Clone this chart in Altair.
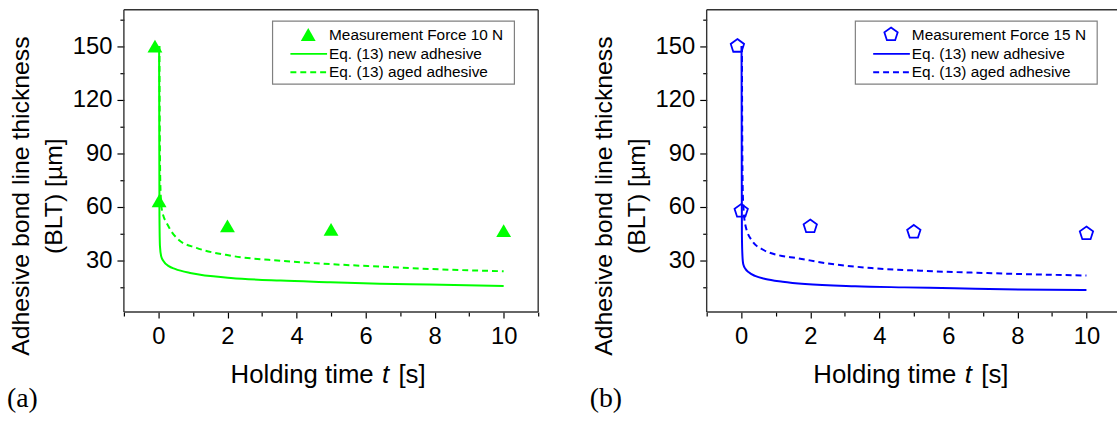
import altair as alt
import pandas as pd

# ---- measured BLT, force 10 N (panel a) ----
meas_t_a = [-0.1, 0.02, 2, 5, 10]
meas_v_a = [150, 63.5, 49.5, 47.5, 46.8]
# Eq. (13), new adhesive
new_t_a = [0.02, 0.025, 0.03, 0.045, 0.08, 0.14, 0.3, 0.48, 0.96, 2.1, 3.54, 4.98, 6.41, 7.85, 10]
new_v_a = [150, 100, 55, 38, 32.5, 30, 27, 25.4, 23, 20.4, 18.9, 18, 17.1, 16.7, 15.9]
# Eq. (13), aged adhesive
aged_t_a = [0.03, 0.04, 0.06, 0.1, 0.29, 0.6, 1.1, 2.1, 3.54, 4.98, 6.41, 7.85, 10]
aged_v_a = [150, 100, 70, 58.5, 49.3, 41.5, 37.2, 32.8, 30, 28.1, 26.7, 25.4, 24.1]

# ---- measured BLT, force 15 N (panel b) ----
meas_t_b = [-0.11, 0.0, 2, 5, 10]
meas_v_b = [150, 57.8, 49.1, 46.1, 45.2]
new_t_b = [0.01, 0.015, 0.02, 0.035, 0.06, 0.12, 0.22, 0.4, 0.7, 1.2, 1.85, 3.3, 4.73, 6.17, 7.6, 10]
new_v_b = [150, 90, 45, 33, 28, 25.5, 23.5, 21.5, 19.8, 18.3, 17, 15.7, 15.1, 14.6, 14, 13.6]
aged_t_b = [0.02, 0.03, 0.05, 0.12, 0.32, 0.65, 1.1, 1.6, 2.5, 3.77, 5.2, 7.12, 10]
aged_v_b = [150, 100, 65, 50, 41, 36, 33, 31.5, 28.5, 25.9, 24.4, 23.1, 21.7]

Y_TICKS = list(range(15, 170, 15))

H = 305
PX_PER_S = 418 / 12.0  # same time scale in both panels
FONT = "Liberation Sans"
SERIF = "Liberation Serif"
FRAME = "#333333"
PENTAGON = "M0,-1L0.951,-0.309L0.588,0.809L-0.588,0.809L-0.951,-0.309Z"

one = pd.DataFrame({"k": [0]})


def x_axis(ticks):
    return alt.Axis(
        title=None, values=ticks, grid=False, domain=False,
        labelExpr="(datum.value % 2 === 0 && datum.value >= 0 && datum.value <= 10) ? datum.label : ''",
        tickSize={"condition": {"test": "datum.value % 2 === 0", "value": 6}, "value": 4},
        tickColor="black", tickWidth=1.2,
        labelFont=FONT, labelFontSize=24, labelColor="black", labelPadding=7,
        labelFlush=False, labelOverlap=False,
    )


y_axis = alt.Axis(
    title=["Adhesive bond line thickness", "(BLT) [µm]"],
    values=Y_TICKS, grid=False, domain=False,
    labelExpr="datum.value % 30 === 0 ? datum.label : ''",
    tickSize={"condition": {"test": "datum.value % 30 === 0", "value": 7}, "value": 4},
    tickColor="black", tickWidth=1.2,
    labelFont=FONT, labelFontSize=24, labelColor="black", labelPadding=5,
    labelOverlap=False,
    titleFont=FONT, titleFontSize=25, titleFontWeight="normal", titleColor="black",
    titleLineHeight=33, titleX=-91, titleY=187.5, titleAngle=270,
    titleAlign="center", titleBaseline="bottom",
)
y_enc = alt.Y("v:Q", scale=alt.Scale(domain=[1.3, 170.3], nice=False, zero=False), axis=y_axis)


def text(label, x, y, size, align="left", style="normal", font=FONT, baseline="alphabetic"):
    return alt.Chart(one).mark_text(
        text=label, align=align, baseline=baseline, fontSize=size,
        font=font, fontStyle=style, color="black",
    ).encode(x=alt.value(x), y=alt.value(y))


def rule(**enc):
    return alt.Chart(one).mark_rule(color=FRAME, strokeWidth=1.4).encode(
        **{k: alt.value(v) for k, v in enc.items()})


def panel(mt, mv, nt, nv, at, av, color, shape, filled, size, force_label, tag,
          width, t_max, right_frame):
    meas = pd.DataFrame({"t": mt, "v": mv})
    new = pd.DataFrame({"t": nt, "v": nv})
    aged = pd.DataFrame({"t": at, "v": av})

    ticks = [v for v in range(-1, 12) if v <= t_max]
    x_enc = alt.X("t:Q", scale=alt.Scale(domain=[-1, t_max], nice=False, zero=False),
                  axis=x_axis(ticks))

    new_line = alt.Chart(new).mark_line(color=color, strokeWidth=2, interpolate="monotone").encode(x=x_enc, y=y_enc)
    aged_line = alt.Chart(aged).mark_line(color=color, strokeWidth=2, strokeDash=[6, 4],
                                          interpolate="monotone").encode(x=x_enc, y=y_enc)
    points = alt.Chart(meas).mark_point(
        shape=shape, filled=filled, size=size, color=color, opacity=1,
        strokeWidth=1.8,
    ).encode(x=x_enc, y=y_enc)

    # plot frame
    frame = [
        rule(x=0, x2=width, y=0),
        rule(x=0, x2=width, y=H),
        rule(x=0, y=0, y2=H),
    ]
    if right_frame:
        frame.append(rule(x=width, y=0, y2=H))

    # legend box
    box = alt.Chart(one).mark_rect(fill="white", stroke="#808080", strokeWidth=1.2).encode(
        x=alt.value(150), x2=alt.value(394), y=alt.value(11.5), y2=alt.value(75))
    leg_sym = alt.Chart(one).mark_point(
        shape=shape, filled=filled, size=size, color=color, opacity=1, strokeWidth=1.8,
    ).encode(x=alt.value(186), y=alt.value(25))
    leg_new = alt.Chart(one).mark_rule(color=color, strokeWidth=2).encode(
        x=alt.value(168), x2=alt.value(205), y=alt.value(44.5))
    leg_aged = alt.Chart(one).mark_rule(color=color, strokeWidth=2, strokeDash=[6, 4]).encode(
        x=alt.value(168), x2=alt.value(205), y=alt.value(63))
    leg_txt = [
        text(force_label, 207, 25, 15.5, baseline="middle"),
        text("Eq. (13) new adhesive", 207, 44.5, 15.5, baseline="middle"),
        text("Eq. (13) aged adhesive", 207, 63, 15.5, baseline="middle"),
    ]

    # x-axis title with italic symbol
    xt = [
        text("Holding time", 252, 377, 26, align="right"),
        text("t", 264, 377, 26, align="center", style="italic"),
        text("[s]", 277, 377, 26, align="left"),
    ]
    tag_txt = text(tag, -118, 401, 28, font=SERIF)

    return alt.layer(
        new_line, aged_line, points, *frame, box, leg_sym, leg_new, leg_aged,
        *leg_txt, *xt, tag_txt,
    ).properties(width=width, height=H)


pa = panel(meas_t_a, meas_v_a, new_t_a, new_v_a, aged_t_a, aged_v_a,
           "#00ff00", "triangle-up", True, 225, "Measurement Force 10 N", "(a)",
           418, 11, True)
# right-hand panel runs to the page edge
WB = 414
pb = panel(meas_t_b, meas_v_b, new_t_b, new_v_b, aged_t_b, aged_v_b,
           "#0000ff", PENTAGON, False, 200, "Measurement Force 15 N", "(b)",
           WB, -1 + WB / PX_PER_S, False)

chart = alt.hconcat(pa, pb, spacing=51).properties(
    padding={"left": 7, "top": 5, "right": 0, "bottom": 0},
    background="white",
).configure_view(stroke=None)

chart.save("out.html", embed_options={"renderer": "svg", "actions": False})
